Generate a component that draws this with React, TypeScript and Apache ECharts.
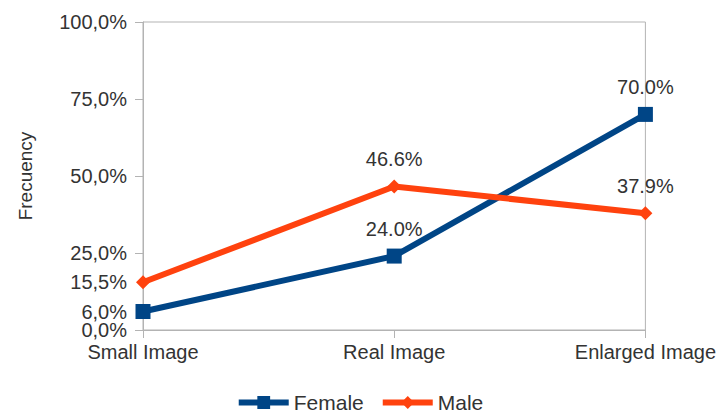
import React, { useEffect, useRef } from "react";
import * as echarts from "echarts";

const categories = ["Small Image", "Real Image", "Enlarged Image"];
const femaleValues = [6.0, 24.0, 70.0];
const maleValues = [15.5, 46.6, 37.9];
const yLabelValues = [6, 15.5, 25, 50, 75, 100];
const yZeroLabelValues = [0];
const yTickValues = [0, 25, 50, 75, 100];
const labelledPoints = [false, true, true];

const FONT = "'Liberation Sans', Arial, sans-serif";

export default function App() {
  const ref = useRef<HTMLDivElement>(null);
  useEffect(() => {
    if (!ref.current) return;
    const chart = echarts.init(ref.current, null, { renderer: "svg" });
    const fmtAxis = (v: number) => v.toFixed(1).replace(".", ",") + "%";
    const fmtData = (p: any) => Number(p.value).toFixed(1) + "%";
    const toData = (vals: number[]) =>
      vals.map((v, i) => ({ value: v, label: { show: labelledPoints[i] } }));
    const labelStyle = {
      fontFamily: FONT,
      fontSize: 20,
      color: "#333333",
      margin: 16,
      formatter: fmtAxis,
    };
    chart.setOption({
      animation: false,
      backgroundColor: "#ffffff",
      textStyle: { fontFamily: FONT },
      grid: {
        left: 143,
        right: 72,
        top: 22,
        bottom: 90,
        show: true,
        borderColor: "#b3b3b3",
        borderWidth: 1,
      },
      legend: {
        bottom: 2,
        left: "center",
        itemWidth: 50,
        itemHeight: 16,
        itemGap: 16,
        textStyle: { fontFamily: FONT, fontSize: 21, color: "#333333" },
        data: [
          { name: "Female", lineStyle: { width: 6 } },
          { name: "Male", lineStyle: { width: 6 } },
        ],
      },
      xAxis: {
        type: "category",
        data: categories,
        boundaryGap: false,
        axisLine: { show: true, lineStyle: { color: "#b3b3b3", width: 1 } },
        axisTick: { show: true, length: 8, inside: false, lineStyle: { color: "#b3b3b3" } },
        splitLine: { show: false },
        axisLabel: { fontFamily: FONT, fontSize: 20, color: "#333333", margin: 12 },
      },
      yAxis: [
        {
          type: "value",
          min: 0,
          max: 100,
          position: "left",
          name: "Frecuency",
          nameLocation: "middle",
          nameRotate: 90,
          nameGap: 108,
          nameTextStyle: { fontFamily: FONT, fontSize: 19, color: "#333333" },
          axisLine: { show: true, lineStyle: { color: "#b3b3b3", width: 1 } },
          axisTick: {
            show: true,
            length: 8,
            customValues: yTickValues,
            lineStyle: { color: "#b3b3b3" },
          },
          splitLine: { show: false },
          axisLabel: { ...labelStyle, customValues: yLabelValues },
        },
        {
          type: "value",
          min: 0,
          max: 100,
          position: "left",
          offset: 0,
          axisLine: { show: false },
          axisTick: { show: false },
          splitLine: { show: false },
          axisLabel: { ...labelStyle, customValues: yZeroLabelValues },
        },
      ],
      series: [
        {
          name: "Female",
          type: "line",
          data: toData(femaleValues),
          symbol: "rect",
          symbolSize: 15,
          lineStyle: { color: "#004586", width: 6 },
          itemStyle: { color: "#004586" },
          label: {
            show: true,
            position: "top",
            distance: 10,
            formatter: fmtData,
            fontFamily: FONT,
            fontSize: 20,
            color: "#333333",
          },
        },
        {
          name: "Male",
          type: "line",
          data: toData(maleValues),
          symbol: "diamond",
          symbolSize: 14,
          lineStyle: { color: "#ff420e", width: 6 },
          itemStyle: { color: "#ff420e" },
          label: {
            show: true,
            position: "top",
            distance: 10,
            formatter: fmtData,
            fontFamily: FONT,
            fontSize: 20,
            color: "#333333",
          },
        },
      ],
    });
    return () => chart.dispose();
  }, []);
  return (
    <div
      ref={ref}
      style={{ position: "fixed", left: 0, top: 0, width: 719, height: 420 }}
    />
  );
}
